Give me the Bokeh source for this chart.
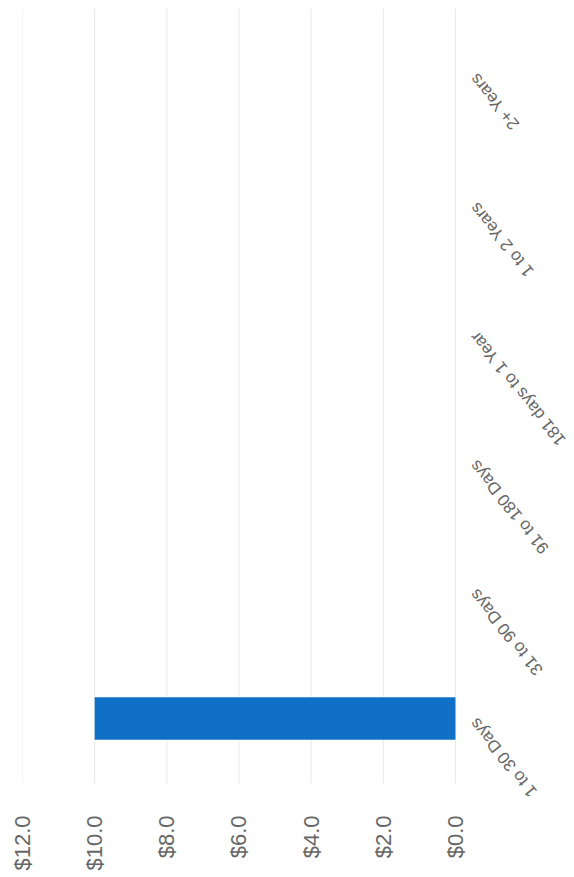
import math
from bokeh.plotting import figure
from bokeh.models import Range1d, FixedTicker, NumeralTickFormatter, ColumnDataSource
from bokeh.core.properties import value
from bokeh.embed import file_html
from bokeh.resources import INLINE

categories = ["1 to 30 Days", "31 to 90 Days", "91 to 180 Days", "181 days to 1 Year", "1 to 2 Years", "2+ Years"]
amounts = [10.0, 0.0, 0.0, 0.0, 0.0, 0.0]
value_ticks = [0, 2, 4, 6, 8, 10, 12]

FONT = "Liberation Sans"
positions = list(range(len(categories)))

p = figure(width=574, height=873, output_backend="svg", toolbar_location=None,
           x_range=Range1d(start=12, end=-3.30),
           y_range=Range1d(start=-0.729, end=len(categories) - 0.434),
           y_axis_location=None, min_border_left=22, min_border_right=0, min_border_top=0,
           min_border_bottom=0)
p.outline_line_color = None
p.background_fill_color = "white"
p.border_fill_color = "white"
p.xgrid.visible = False
p.ygrid.visible = False

# value grid lines spanning the category bands only
grid = ColumnDataSource(dict(x=value_ticks, y0=[positions[0] - 0.5] * len(value_ticks),
                             y1=[positions[-1] + 0.5] * len(value_ticks)))
p.segment(x0="x", x1="x", y0="y0", y1="y1", source=grid, line_color="#e9e9e9", line_width=1)

src = ColumnDataSource(dict(pos=positions, amt=amounts))
p.hbar(y="pos", left=0, right="amt", height=0.33, source=src,
       fill_color="#1070c6", line_color=None)

lbl = ColumnDataSource(dict(pos=positions, cat=categories, x=[-0.5] * len(categories)))
p.text(x="x", y="pos", text="cat", source=lbl, angle=129, angle_units="deg",
       y_offset=2, text_align="right", text_baseline="middle", text_color="#666666",
       text_font=value(FONT), text_font_size="17px")

ax = p.xaxis[0]
ax.ticker = FixedTicker(ticks=value_ticks)
ax.formatter = NumeralTickFormatter(format="$0.0")
ax.axis_line_color = None
ax.major_tick_line_color = None
ax.minor_tick_line_color = None
ax.major_tick_out = 0
ax.major_tick_in = 0
ax.major_label_standoff = 3
ax.major_label_orientation = math.pi / 2
ax.major_label_text_font = FONT
ax.major_label_text_font_size = "22px"
ax.major_label_text_color = "#666666"

open("out.html", "w").write(file_html(p, INLINE))
